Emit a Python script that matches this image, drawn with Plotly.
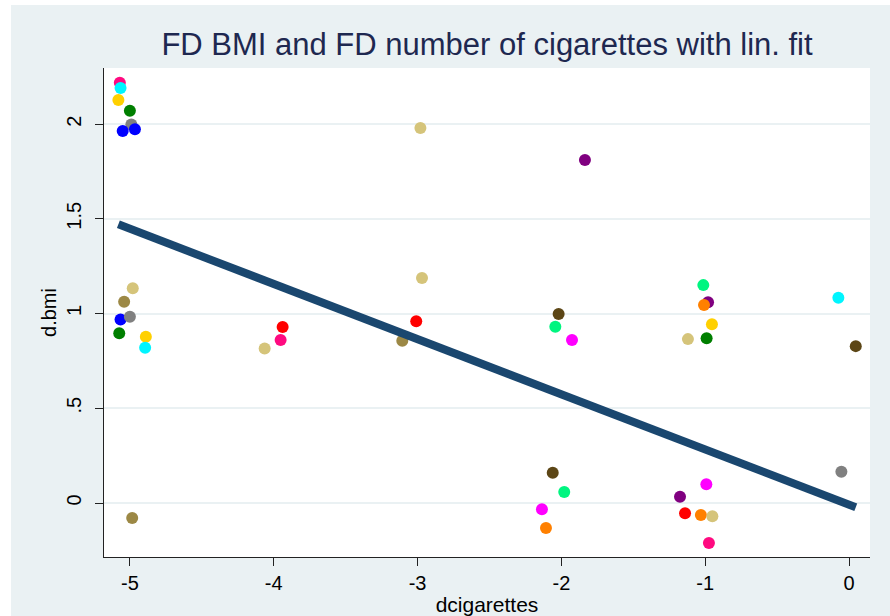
import plotly.graph_objects as go
import numpy as np

# ---- data ----
dcigarettes = [-5.07, -5.065, -5.08, -5.00, -4.99, -4.965, -5.05,
               -4.98, -5.04, -5.065, -5.00, -5.074, -4.889, -4.894, -4.984,
               -3.938, -3.952, -4.063,
               -2.969, -2.98, -3.106, -3.009,
               -1.836, -2.019, -2.042, -1.926, -2.06, -1.98, -2.135, -2.107,
               -1.013, -0.98, -1.008, -0.953, -0.99, -1.12,
               -0.992, -1.175, -1.14, -1.03, -0.95, -0.974,
               -0.074, 0.047, -0.053]
dbmi = [2.218, 2.19, 2.127, 2.07, 1.998, 1.973, 1.964,
        1.133, 1.062, 0.969, 0.983, 0.896, 0.878, 0.820, -0.079,
        0.929, 0.860, 0.816,
        1.187, 1.979, 0.857, 0.959,
        1.81, 0.997, 0.930, 0.860, 0.160, 0.058, -0.033, -0.132,
        1.150, 1.059, 1.045, 0.943, 0.869, 0.865,
        0.099, 0.033, -0.054, -0.063, -0.070, -0.211,
        1.083, 0.828, 0.165]
point_colors = ["#ff0a80", "#00f5ff", "#ffd000", "#007f00", "#808080", "#0000ff", "#0000ff",
                "#d5c47a", "#9c8845", "#0000ff", "#808080", "#007f00", "#ffd000", "#00f5ff", "#9c8845",
                "#ff0000", "#ff0a80", "#d5c47a",
                "#d5c47a", "#d5c47a", "#9c8845", "#ff0000",
                "#800080", "#5c4616", "#00f580", "#ff00ff", "#5c4616", "#00f580", "#ff00ff", "#ff8000",
                "#00f580", "#800080", "#ff8000", "#ffd000", "#007f00", "#d5c47a",
                "#ff00ff", "#800080", "#ff0000", "#ff8000", "#d5c47a", "#ff0a80",
                "#00f5ff", "#5c4616", "#808080"]

# linear fit as drawn in the picture
fit_intercept = -0.009
fit_slope = -0.2913

x_ticks = [-5, -4, -3, -2, -1, 0]
x_ticklabels = ["-5", "-4", "-3", "-2", "-1", "0"]
y_ticks = [0, 0.5, 1, 1.5, 2]
y_ticklabels = ["0", ".5", "1", "1.5", "2"]

# ---- figure ----
fit_x = np.array([min(dcigarettes), max(dcigarettes)])
fit_y = fit_intercept + fit_slope * fit_x

fig = go.Figure()
fig.add_trace(go.Scatter(
    x=dcigarettes, y=dbmi, mode="markers",
    marker=dict(color=point_colors, size=12, line=dict(width=0)),
    showlegend=False, hoverinfo="x+y"))
fig.add_trace(go.Scatter(
    x=fit_x, y=fit_y, mode="lines",
    line=dict(color="#1a476f", width=8),
    showlegend=False))

W, H = 890, 616
ml, mr, mt, mb = 104, 20, 68, 59
pw, ph = W - ml - mr, H - mt - mb

def px_to_paper_x(px):
    return (px - ml) / pw

def px_to_paper_y(py):
    return (H - mb - py) / ph

bg = "#eaf1f3"
shapes = [
    dict(type="rect", xref="paper", yref="paper", layer="below",
         x0=px_to_paper_x(11), x1=px_to_paper_x(W + 5),
         y0=px_to_paper_y(H + 5), y1=px_to_paper_y(5),
         fillcolor=bg, line=dict(width=0)),
    dict(type="rect", xref="paper", yref="paper", layer="below",
         x0=0, x1=1, y0=0, y1=1,
         fillcolor="white", line=dict(width=0)),
]

font_family = "Arial, Liberation Sans, sans-serif"

fig.update_layout(
    width=W, height=H,
    margin=dict(l=ml, r=mr, t=mt, b=mb, autoexpand=False),
    paper_bgcolor="white", plot_bgcolor="white",
    shapes=shapes,
    font=dict(family=font_family, color="#000000", size=20),
    title=dict(text="FD BMI and FD number of cigarettes with lin. fit",
               x=(ml + pw / 2) / W, xanchor="center",
               y=1 - 44 / H, yanchor="middle",
               font=dict(size=31, color="#1e2850", family=font_family)),
    xaxis=dict(range=[-5.18, 0.146], tickmode="array",
               tickvals=x_ticks, ticktext=x_ticklabels,
               showgrid=False, zeroline=False, automargin=False,
               showline=True, linecolor="#222", linewidth=1.3,
               ticks="outside", ticklen=8, tickwidth=1.3, tickcolor="#222",
               tickfont=dict(size=20),
               title=dict(text="dcigarettes", font=dict(size=21), standoff=4)),
    yaxis=dict(range=[-0.285, 2.296], tickmode="array",
               tickvals=y_ticks, ticktext=y_ticklabels,
               tickangle=-90, ticklabelstandoff=6,
               showgrid=True, gridcolor="#eaf1f3", gridwidth=1.5,
               zeroline=False, automargin=False,
               showline=True, linecolor="#222", linewidth=1.3,
               ticks="outside", ticklen=8, tickwidth=1.3, tickcolor="#222",
               tickfont=dict(size=20),
               title=dict(text="d.bmi", font=dict(size=20), standoff=0)),
)

fig.write_html("out.html")
